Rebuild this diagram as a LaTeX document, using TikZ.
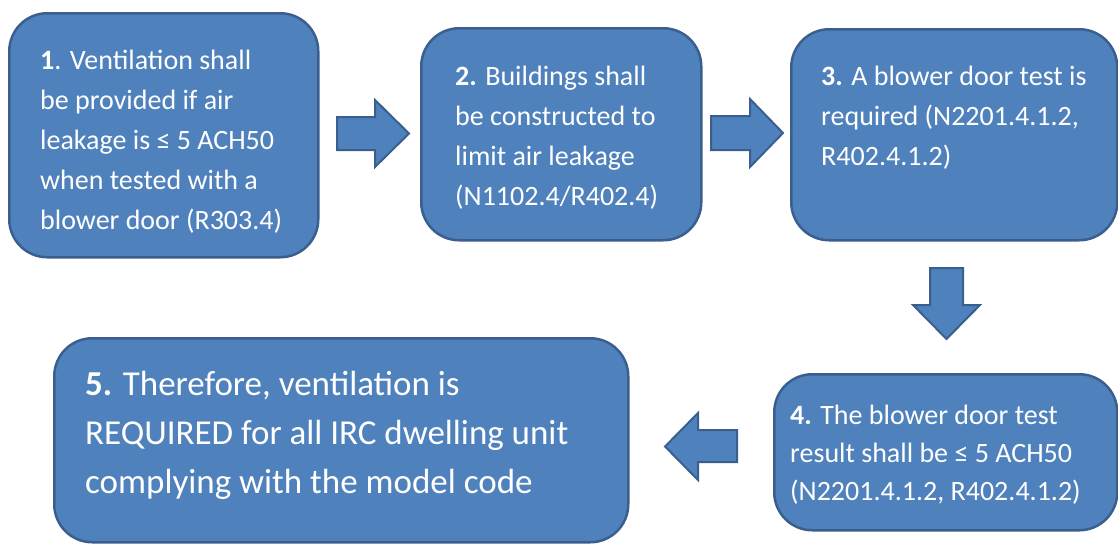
\documentclass[tikz,border=0pt]{standalone}
\usepackage{fontspec}
\setmainfont{Carlito}
\definecolor{boxfill}{HTML}{4F81BD}
\definecolor{boxline}{HTML}{3A5F8E}
\begin{document}
\begin{tikzpicture}[x=1pt,y=-1pt,
  box/.style={draw=boxline, fill=boxfill, line width=2.5pt, rounded corners=38pt, inner sep=0pt, anchor=north west},
  txt/.style={text=white, inner sep=0pt, anchor=north west, align=left, font=\fontsize{28}{40}\selectfont},
  bigtxt/.style={txt, font=\fontsize{35}{49}\selectfont},
  blockarrow/.style={draw=boxline, fill=boxfill, line width=2pt, line join=miter}]
\path[use as bounding box] (0,0) rectangle (1118,544);
% boxes
\node[box, minimum width=309pt, minimum height=244pt] (b1) at (8,12) {};
\node[box, minimum width=280pt, minimum height=212pt] (b2) at (420,27) {};
\node[box, minimum width=326pt, minimum height=211pt] (b3) at (790,28) {};
\node[box, minimum width=343pt, minimum height=156pt] (b4) at (773,373) {};
\node[box, minimum width=574pt, minimum height=204pt] (b5) at (53,337) {};
% texts
\node[txt] (t1) at (40,50) {\textbf{1}. Ventilation shall\\be provided if air\\leakage is ≤ 5 ACH50\\when tested with a\\blower door (R303.4)};
\node[txt] (t2) at (455,66) {\textbf{2.} Buildings shall\\be constructed to\\limit air leakage\\(N1102.4/R402.4)};
\node[txt] (t3) at (821,66) {\textbf{3.} A blower door test is\\required (N2201.4.1.2,\\R402.4.1.2)};
\node[txt, font=\fontsize{28}{38}\selectfont] (t4) at (790,405) {\textbf{4.} The blower door test\\result shall be ≤ 5 ACH50\\(N2201.4.1.2, R402.4.1.2)};
\node[bigtxt] (t5) at (85,371) {\textbf{5.} Therefore, ventilation is\\REQUIRED for all IRC dwelling unit\\complying with the model code};
% block arrows
\draw[blockarrow] (337,117) -- (375,117) -- (375,100) -- (409,133.5) -- (375,167) -- (375,150) -- (337,150) -- cycle;
\draw[blockarrow] (711,116) -- (750,116) -- (750,99) -- (783,133) -- (750,167) -- (750,150) -- (711,150) -- cycle;
\draw[blockarrow] (930,268) -- (963,268) -- (963,305) -- (980,305) -- (946.5,339) -- (913,305) -- (930,305) -- cycle;
\draw[blockarrow] (737,430) -- (698,430) -- (698,413) -- (665,446.5) -- (698,480) -- (698,462) -- (737,462) -- cycle;
\end{tikzpicture}
\end{document}
